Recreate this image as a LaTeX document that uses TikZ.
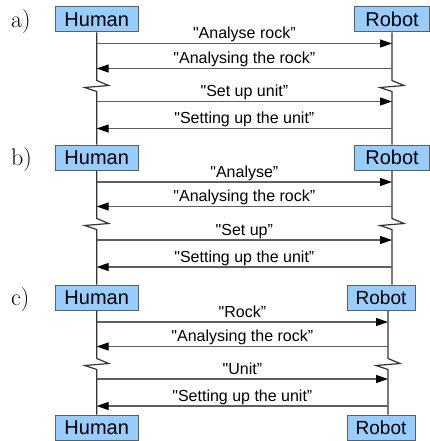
\documentclass[tikz,border=0pt]{standalone}
\usepackage{fontspec}
\newfontfamily\arial{Liberation Sans}
\usepackage{tikz}
\usetikzlibrary{arrows.meta}
\usetikzlibrary{positioning}
\definecolor{boxblue}{RGB}{153,204,255}
\definecolor{msggray}{RGB}{95,95,95}
\tikzstyle{actor}=[draw=msggray,fill=boxblue,line width=1pt,inner sep=0pt,
                minimum height=25pt,font=\arial\fontsize{20}{24}\selectfont]
\tikzstyle{life}=[draw=black!80,line width=1.2pt]
\tikzstyle{msg}=[draw=msggray,line width=1.2pt,
                -{Triangle[length=12pt,width=8pt,color=black]}]
\tikzstyle{lbl}=[font=\arial\fontsize{16}{19}\selectfont,anchor=base,
                inner sep=0pt,yshift=5pt]
\tikzstyle{part}=[font=\fontsize{24}{28}\selectfont,anchor=west,inner sep=0pt]

\begin{document}
\begin{tikzpicture}[x=1pt,y=-1pt]
\useasboundingbox (0,0) rectangle (430,441);
% actors
\node [actor,minimum width=83pt] (hA) at (96.7,19.5) {Human};
\node [actor,minimum width=75pt] (rA) at (392,19.5) {Robot};
\node [actor,minimum width=83pt] (hB) at (96.7,157.5) {Human};
\node [actor,minimum width=75pt] (rB) at (392,157.5) {Robot};
\node [actor,minimum width=83pt] (hC) at (96.7,297.5) {Human};
\node [actor,minimum width=68pt,font=\arial\fontsize{19}{23}\selectfont] (rC) at (381,297.5) {Robot};
\node [actor,minimum width=83pt] (hD) at (96.7,427.5) {Human};
\node [actor,minimum width=68pt,font=\arial\fontsize{19}{23}\selectfont] (rD) at (381,427.5) {Robot};
\coordinate (rCx) at ([xshift=7pt]rC.south);
\coordinate (rDx) at ([xshift=7pt]rD.north);
% parts
\node [part] (pa) at (11,22) {a)};
\node [part] (pb) at (11,160) {b)};
\node [part] (pc) at (11,300) {c)};
% lifelines with breaks
\draw [life] (hA.south) -- ++(0,48) -- ++(12,5) -- ++(-24,2) -- ++(12,4) -- (hB.north);
\draw [life] (rA.south) -- ++(0,48) -- ++(12,5) -- ++(-24,2) -- ++(12,4) -- (rB.north);
\draw [life] (hB.south) -- ++(0,48) -- ++(12,5) -- ++(-24,2) -- ++(12,4) -- (hC.north);
\draw [life] (rB.south) -- ++(0,48) -- ++(12,5) -- ++(-24,2) -- ++(12,4) -- (rC.north -| rB);
\draw [life] (hC.south) -- ++(0,48) -- ++(12,5) -- ++(-24,2) -- ++(12,4) -- (hD.north);
\draw [life] (rCx) -- ++(0,48) -- ++(12,5) -- ++(-24,2) -- ++(12,4) -- (rDx);
% a)
\draw [msg] (hA |- 0,43.5) -- (rA |- 0,43.5) node [lbl,midway] {"Analyse rock”};
\draw [msg] (rA |- 0,68.5) -- (hA |- 0,68.5) node [lbl,midway] {"Analysing the rock”};
\draw [msg] (hA |- 0,101.5) -- (rA |- 0,101.5) node [lbl,midway] {"Set up unit”};
\draw [msg] (rA |- 0,128.5) -- (hA |- 0,128.5) node [lbl,midway] {"Setting up the unit”};
% b)
\draw [msg] (hB |- 0,182) -- (rB |- 0,182) node [lbl,midway] {"Analyse”};
\draw [msg] (rB |- 0,206.5) -- (hB |- 0,206.5) node [lbl,midway] {"Analysing the rock”};
\draw [msg] (hB |- 0,240) -- (rB |- 0,240) node [lbl,midway] {"Set up”};
\draw [msg] (rB |- 0,267) -- (hB |- 0,267) node [lbl,midway] {"Setting up the unit”};
% c)
\draw [msg] (hC |- 0,322) -- (rCx |- 0,322) node [lbl,midway] {"Rock”};
\draw [msg] (rCx |- 0,346.5) -- (hC |- 0,346.5) node [lbl,midway] {"Analysing the rock”};
\draw [msg] (hC |- 0,379) -- (rCx |- 0,379) node [lbl,midway] {"Unit”};
\draw [msg] (rCx |- 0,406) -- (hC |- 0,406) node [lbl,midway] {"Setting up the unit”};
\end{tikzpicture}
\end{document}
